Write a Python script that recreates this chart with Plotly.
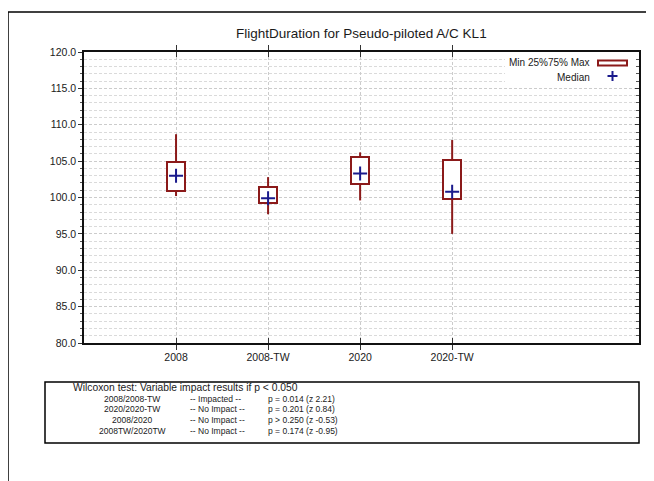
import plotly.graph_objects as go

# ---- data ----
categories = ["2008", "2008-TW", "2020", "2020-TW"]
mins = [100.2, 97.7, 99.6, 95.0]
q1 = [100.9, 99.2, 101.8, 99.8]
medians = [103.0, 99.9, 103.3, 100.8]
q3 = [104.9, 101.5, 105.5, 105.1]
maxs = [108.7, 102.8, 106.2, 107.9]

title_text = "FlightDuration for Pseudo-piloted A/C KL1"
wilcoxon_header = "Wilcoxon test: Variable impact results if p < 0.050"
wilcoxon_pairs = ["2008/2008-TW", "2020/2020-TW", "2008/2020", "2008TW/2020TW"]
wilcoxon_impact = ["-- Impacted --", "-- No Impact --", "-- No Impact --", "-- No Impact --"]
wilcoxon_stats = ["p = 0.014 (z 2.21)", "p = 0.201 (z 0.84)", "p > 0.250 (z -0.53)", "p = 0.174 (z -0.95)"]

# ---- layout geometry (page pixels; page body has an 8px margin) ----
PAGE_W, PAGE_H = 654, 481
OFF = 8
W, H = PAGE_W - OFF, PAGE_H - OFF
L, R, T, B = 84, 639, 52, 343
FONT = "Liberation Sans, Arial, sans-serif"
TXT = "#1a1a1a"
BOXC = "#8b1a1a"
MEDC = "#1a1a8c"
GRIDC = "#cccccc"
DASH = "3px,2px"


def xp(px):
    return (px - L) / (R - L)


def yp(py):
    return (B - py) / (B - T)


fig = go.Figure()

# whiskers (lower and upper segments)
wx, wy = [], []
for c, lo, a, b, hi in zip(categories, mins, q1, q3, maxs):
    wx += [c, c, None, c, c, None]
    wy += [lo, a, None, b, hi, None]
fig.add_trace(go.Scatter(x=wx, y=wy, mode="lines", line=dict(color=BOXC, width=2),
                         hoverinfo="skip", showlegend=False))

# boxes (25%-75%)
fig.add_trace(go.Bar(x=categories, base=q1, y=[b - a for a, b in zip(q1, q3)],
                     width=0.2, marker=dict(color="white", line=dict(color=BOXC, width=2)),
                     showlegend=False))

# medians
fig.add_trace(go.Scatter(x=categories, y=medians, mode="markers",
                         marker=dict(symbol="cross-thin", size=10, line=dict(color=MEDC, width=2)),
                         showlegend=False))

# dummy trace for right mirror axis
fig.add_trace(go.Scatter(x=[None], y=[None], yaxis="y2", showlegend=False, hoverinfo="skip"))

fig.update_layout(
    width=W, height=H,
    margin=dict(l=L - OFF, r=PAGE_W - R, t=T - OFF, b=PAGE_H - B, pad=0),
    paper_bgcolor="white", plot_bgcolor="white",
    font=dict(family=FONT, size=10, color=TXT),
    bargap=0,
    xaxis=dict(
        type="category", range=[-1, 5.03],
        showline=True, linecolor="#111", linewidth=1.5, mirror="allticks",
        ticks="inside", ticklen=5, tickcolor="#333",
        showgrid=True, gridcolor=GRIDC, griddash=DASH, gridwidth=1,
        tickfont=dict(size=10.5, family=FONT, color=TXT),
        ticklabelstandoff=4,
        zeroline=False, fixedrange=True,
    ),
    yaxis=dict(
        range=[80, 120], dtick=5, tickformat=".1f",
        showline=True, linecolor="#111", linewidth=1.5,
        ticks="outside", ticklen=4, tickcolor="#333",
        showgrid=True, gridcolor=GRIDC, griddash=DASH, gridwidth=1,
        minor=dict(dtick=1, showgrid=True, gridcolor="#dadada", griddash=DASH,
                   ticks="outside", ticklen=2, tickcolor="#555"),
        tickfont=dict(size=10.5, family=FONT, color=TXT),
        zeroline=False,
    ),
    yaxis2=dict(
        overlaying="y", side="right", anchor="x",
        range=[80, 120], dtick=5, showticklabels=False,
        showline=True, linecolor="#111", linewidth=1.5,
        ticks="inside", ticklen=4, tickcolor="#333",
        minor=dict(dtick=1, ticks="inside", ticklen=3, tickcolor="#555"),
        showgrid=False, zeroline=False,
    ),
)

shapes = []
# outer frame (left and top edges; right/bottom run off page)
shapes.append(dict(type="line", xref="paper", yref="paper", x0=xp(8), x1=xp(8), y0=yp(12), y1=yp(490),
                   line=dict(color="#000", width=1.5)))
shapes.append(dict(type="line", xref="paper", yref="paper", x0=xp(8), x1=xp(665), y0=yp(12), y1=yp(12),
                   line=dict(color="#000", width=1.5)))
# legend background and swatch
shapes.append(dict(type="rect", xref="paper", yref="paper", x0=xp(505), x1=xp(636), y0=yp(86), y1=yp(53),
                   fillcolor="white", line=dict(width=0), layer="above"))
shapes.append(dict(type="rect", xref="paper", yref="paper", x0=xp(598), x1=xp(627), y0=yp(65.5), y1=yp(60.5),
                   fillcolor="white", line=dict(color=BOXC, width=2), layer="above"))
# wilcoxon box
shapes.append(dict(type="rect", xref="paper", yref="paper", x0=xp(45), x1=xp(639), y0=yp(443), y1=yp(382),
                   fillcolor="rgba(0,0,0,0)", line=dict(color="#000", width=1.5)))
# legend median marker
shapes.append(dict(type="line", xref="paper", yref="paper", x0=xp(607.5), x1=xp(617.5), y0=yp(76), y1=yp(76),
                   line=dict(color=MEDC, width=2), layer="above"))
shapes.append(dict(type="line", xref="paper", yref="paper", x0=xp(612.5), x1=xp(612.5), y0=yp(71), y1=yp(81),
                   line=dict(color=MEDC, width=2), layer="above"))
fig.update_layout(shapes=shapes)

ann = []
ann.append(dict(text=title_text, x=xp(361), y=yp(33), xref="paper", yref="paper", showarrow=False,
                xanchor="center", yanchor="middle", font=dict(size=13.5, family=FONT, color=TXT)))
ann.append(dict(text="Min 25%75% Max", x=xp(592), y=yp(63), xref="paper", yref="paper", showarrow=False,
                xanchor="right", yanchor="middle", font=dict(size=10, family=FONT, color=TXT)))
ann.append(dict(text="Median", x=xp(592), y=yp(77), xref="paper", yref="paper", showarrow=False,
                xanchor="right", yanchor="middle", font=dict(size=10, family=FONT, color=TXT)))
ann.append(dict(text=wilcoxon_header, x=xp(71), y=yp(388), xref="paper", yref="paper", showarrow=False,
                xanchor="left", yanchor="middle", font=dict(size=10.3, family=FONT, color=TXT)))
for i, (p, im, st) in enumerate(zip(wilcoxon_pairs, wilcoxon_impact, wilcoxon_stats)):
    y = 398.5 + i * 10.7
    ann.append(dict(text=p, x=xp(132), y=yp(y), xref="paper", yref="paper", showarrow=False,
                    xanchor="center", yanchor="middle", font=dict(size=8.5, family=FONT, color=TXT)))
    ann.append(dict(text=im, x=xp(188), y=yp(y), xref="paper", yref="paper", showarrow=False,
                    xanchor="left", yanchor="middle", font=dict(size=8.5, family=FONT, color=TXT)))
    ann.append(dict(text=st, x=xp(266), y=yp(y), xref="paper", yref="paper", showarrow=False,
                    xanchor="left", yanchor="middle", font=dict(size=8.5, family=FONT, color=TXT)))
fig.update_layout(annotations=ann)

fig.write_html("out.html")
